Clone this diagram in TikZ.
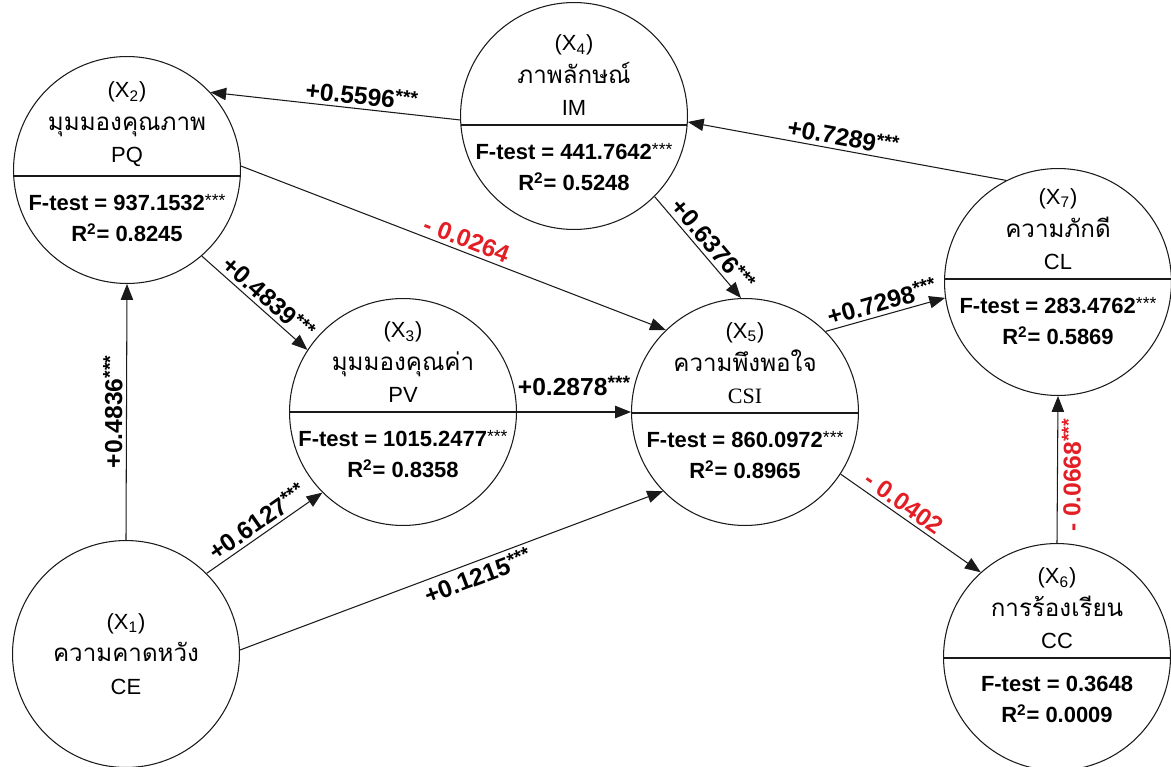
\documentclass[tikz,border=0pt]{standalone}
\usepackage{fontspec}
\setmainfont{Liberation Sans}
\newfontfamily\thai[Script=Thai, Scale=1.1]{Loma}
\newfontfamily\timesfont{Liberation Serif}
\usepackage{tikz}
\usetikzlibrary{arrows.meta}
\definecolor{trait}{HTML}{1A1A1A}
\definecolor{rouge}{HTML}{E31E24}
\newcommand{\etoiles}{\raisebox{0.35ex}{\mdseries\fontsize{10}{10}\selectfont ***}}
\newcommand{\etoilesarc}{\raisebox{0.45ex}{\fontsize{11}{11}\selectfont ***}}

\begin{document}
\begin{tikzpicture}[x=0.02cm, y=-0.02cm,
    cercle/.style={draw=trait, line width=0.6pt, circle, minimum size=4.54cm, inner sep=0pt},
    haut/.style={align=center, inner ysep=5pt, anchor=south, font=\fontsize{12.5}{18.5}\selectfont},
    bas/.style={align=center, inner ysep=10pt, anchor=north, font=\bfseries\fontsize{12.5}{18}\selectfont},
    fleche/.style={draw=trait, line width=0.6pt, -{Triangle[length=9pt, width=7pt]}},
    coef/.style={sloped, font=\bfseries\fontsize{14}{16}\selectfont, inner sep=2pt},
    nonsig/.style={coef, text=rouge}]
  \useasboundingbox (0,0) rectangle (1171,767);
  % Variables avec test F : nom, x, y, decalage du trait, indice, libelle, sigle, F, R2
  \foreach \n/\x/\y/\d/\k/\nom/\abr/\ft/\rc in {
      x2/127/170/6/2/มุมมองคุณภาพ/PQ/{937.1532\etoiles}/0.8245,
      x3/403/412/0/3/มุมมองคุณค่า/PV/{1015.2477\etoiles}/0.8358,
      x4/574/116/9/4/ภาพลักษณ์/IM/{441.7642\etoiles}/0.5248,
      x5/745/412/1/5/ความพึงพอใจ/{\timesfont CSI}/{860.0972\etoiles}/0.8965,
      x6/1057/657/1/6/การร้องเรียน/CC/{0.3648}/0.0009,
      x7/1058/282/-3/7/ความภักดี/CL/{283.4762\etoiles}/0.5869} {
    \node[cercle] (\n) at (\x,\y) {};
    \pgfmathsetmacro\w{sqrt(113.5^2-(\d)^2)}
    \draw[trait, line width=0.6pt] (\x-\w,\y+\d) -- (\x+\w,\y+\d);
    \node[haut] (\n-h) at (\x,\y+\d) {(X\textsubscript{\k})\\{\thai \nom}\\\abr};
    \node[bas] (\n-b) at (\x,\y+\d) {F-test = \ft\\R\textsuperscript{2}= \rc};
  }
  % Variable exogene
  \node[cercle, align=center, font=\fontsize{12.5}{18.5}\selectfont] (x1) at (126,654)
    {(X\textsubscript{1})\\{\thai ความคาดหวัง}\\CE};

  % Chemins
  \draw[fleche] (x4.182) -- node[coef, above, pos=0.4] (c42) {+0.5596\etoilesarc} (x2.43);
  \draw[fleche] (x2.2) -- node[nonsig, above, pos=0.52] (c25) {- 0.0264} (x5.134);
  \draw[fleche] (x2.-49) -- node[coef, above, pos=0.55] (c23) {+0.4839\etoilesarc} (x3.147);
  \draw[fleche] (x1.north) -- node[coef, above] (c12) {+0.4836\etoilesarc} (x2.south);
  \draw[fleche] (x1.45) -- node[coef, above] (c13) {+0.6127\etoilesarc} (x3.225);
  \draw[fleche] (x1.2) -- node[coef, below, pos=0.55] (c15) {+0.1215\etoilesarc} (x5.224);
  \draw[fleche] (x3.east) -- node[coef, above=7pt] (c35) {+0.2878\etoilesarc} (x5.west);
  \draw[fleche] (x4.-45) -- node[coef, above, pos=0.56] (c45) {+0.6376\etoilesarc} (x5.92);
  \draw[fleche] (x5.45) -- node[coef, above=0pt] (c57) {+0.7298\etoilesarc} (x7.188);
  \draw[fleche] (x7.117) -- node[coef, above, pos=0.52] (c74) {+0.7289\etoilesarc} (x4.-3);
  \draw[fleche] (x5.-33) -- node[nonsig, above, pos=0.4] (c56) {- 0.0402} (x6.132);
  \draw[fleche] (x6.north) -- node[nonsig, below, pos=0.46] (c67) {- 0.0668\etoilesarc} (x7.south);
\end{tikzpicture}
\end{document}
